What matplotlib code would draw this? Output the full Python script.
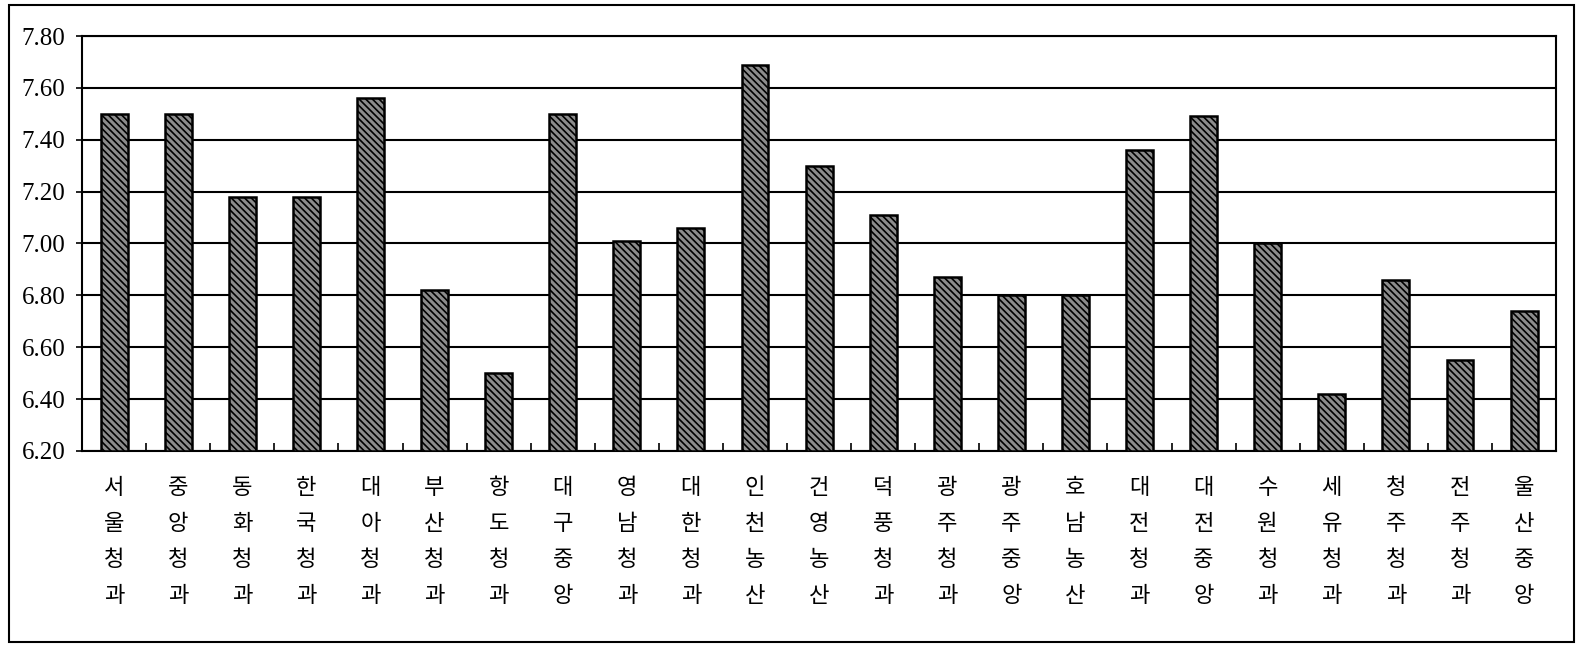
from matplotlib import pyplot as plt
from matplotlib.patches import Rectangle
from matplotlib.ticker import MultipleLocator
import numpy as np

plt.rcParams['font.family'] = ['Noto Sans CJK KR', 'DejaVu Sans']
plt.rcParams['hatch.color'] = '#222222'
plt.rcParams['hatch.linewidth'] = 1.2

# 도매법인별 값
names = ['서울청과', '중앙청과', '동화청과', '한국청과', '대아청과', '부산청과', '항도청과',
         '대구중앙', '영남청과', '대한청과', '인천농산', '건영농산', '덕풍청과', '광주청과',
         '광주중앙', '호남농산', '대전청과', '대전중앙', '수원청과', '세유청과', '청주청과',
         '전주청과', '울산중앙']
values = [7.50, 7.50, 7.18, 7.18, 7.56, 6.82, 6.50,
          7.50, 7.01, 7.06, 7.69, 7.30, 7.11, 6.87,
          6.80, 6.80, 7.36, 7.49, 7.00, 6.42, 6.86,
          6.55, 6.74]
y_ticks = [6.20, 6.40, 6.60, 6.80, 7.00, 7.20, 7.40, 7.60, 7.80]

fig = plt.figure(figsize=(15.79, 6.45), dpi=100)
ax = fig.add_axes([0.052, 0.301, 0.9335, 0.643])

x = np.arange(len(names))
base = y_ticks[0]
ax.bar(x, [v - base for v in values], bottom=base, width=0.42,
       color='#8c8c8c', edgecolor='black', linewidth=1.8, hatch='\\\\\\\\\\', zorder=3)

ax.set_ylim(y_ticks[0], y_ticks[-1])
ax.set_xlim(-0.5, len(names) - 0.5)
ax.set_yticks(y_ticks, labels=[f"{t:.2f}" for t in y_ticks])
ax.yaxis.grid(True, color='black', linewidth=1.5)
ax.set_axisbelow(True)

ax.set_xticks(x, labels=['\n'.join(n) for n in names])
ax.xaxis.set_minor_locator(MultipleLocator(1, offset=0.5))
ax.tick_params(axis='x', which='major', length=0, pad=18, labelsize=16)
ax.tick_params(axis='x', which='minor', length=6, width=1.2, direction='in')
ax.tick_params(axis='y', length=4, width=1.2, labelsize=18, pad=8)
for lbl in ax.get_xticklabels():
    lbl.set_linespacing(1.72)
    lbl.set_fontweight('medium')
for lbl in ax.get_yticklabels():
    lbl.set_family(['Liberation Serif', 'DejaVu Serif'])

for s in ax.spines.values():
    s.set_linewidth(1.5)
    s.set_color('black')

# 바깥 테두리
fig.patches.append(Rectangle((0.006, 0.004), 0.991, 0.988, transform=fig.transFigure,
                             fill=False, edgecolor='black', linewidth=1.5))

fig.savefig('out.png', dpi=100)
